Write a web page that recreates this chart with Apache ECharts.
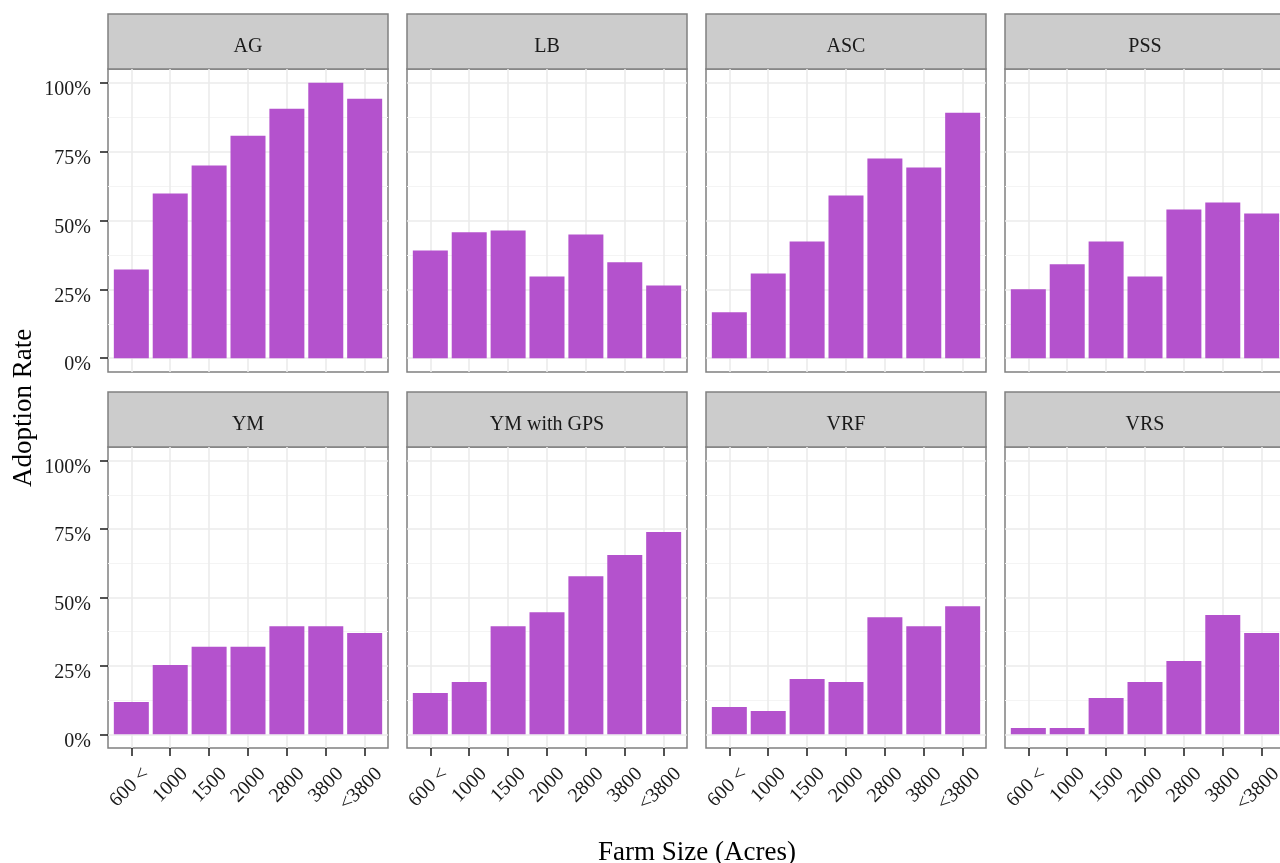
<!DOCTYPE html>
<html>
<head>
<meta charset="utf-8">
<script src="https://cdn.jsdelivr.net/npm/echarts@6/dist/echarts.min.js"></script>
<style>
  html, body { margin: 0; padding: 0; background: #fff; }
  #chart { width: 1280px; height: 863px; }
</style>
</head>
<body>
<div id="chart"></div>
<script>
// farm size classes (x axis)
const categories = ['600 <', '1000', '1500', '2000', '2800', '3800', '<3800'];
const panelNames = ['AG', 'LB', 'ASC', 'PSS', 'YM', 'YM with GPS', 'VRF', 'VRS'];

// adoption rate in %, one array per technology
const agRate    = [32.2, 59.8, 70.0, 80.8, 90.6, 100, 94.2];
const lbRate    = [39.1, 45.7, 46.4, 29.7, 44.9, 34.8, 26.4];
const ascRate   = [16.7, 30.8, 42.4, 59.1, 72.5, 69.2, 89.1];
const pssRate   = [25.0, 34.1, 42.4, 29.7, 54.0, 56.5, 52.5];
const ymRate    = [11.8, 25.3, 32.0, 32.0, 39.5, 39.5, 37.0];
const ymGpsRate = [15.1, 19.1, 39.5, 44.6, 57.8, 65.5, 73.9];
const vrfRate   = [10.0, 8.5, 20.2, 19.1, 42.8, 39.5, 46.8];
const vrsRate   = [2.3, 2.3, 13.3, 19.1, 26.8, 43.6, 37.0];

const yTicks = [0, 25, 50, 75, 100];
const yMinorTicks = [12.5, 37.5, 62.5, 87.5];

const panelData = [agRate, lbRate, ascRate, pssRate, ymRate, ymGpsRate, vrfRate, vrsRate];

// layout (ggplot-like facets, 2 rows x 4 cols)
const FONT = '"Liberation Serif", "DejaVu Serif", serif';
const colLeft = [108, 407, 706, 1005];
const panelW = 280;
const rows = [
    { stripTop: 14, plotTop: 69, plotH: 303 },
    { stripTop: 392, plotTop: 447, plotH: 301 }
];
const stripH = 55;
const labelShift = 0.19;   // rotated x labels sit a little right of their tick (hjust = 1)
const barColor = '#b452cd';
const borderColor = '#808080';

const chart = echarts.init(document.getElementById('chart'));

const grid = [], xAxis = [], yAxis = [], series = [], graphic = [];

panelData.forEach((vals, p) => {
    const r = Math.floor(p / 4), c = p % 4;
    const row = rows[r];
    const isBottom = r === 1, isLeft = c === 0;

    grid.push({
        left: colLeft[c], top: row.plotTop, width: panelW, height: row.plotH,
        outerBoundsMode: 'none', containLabel: false,
        show: true, borderColor, borderWidth: 1.5, backgroundColor: 'transparent'
    });

    const catPos = categories.map((_, i) => i + 1);
    // ticks + vertical grid
    xAxis.push({
        gridIndex: p,
        type: 'value',
        min: 0.4, max: 7.6,
        axisLine: { show: false, onZero: false },
        axisTick: {
            show: isBottom, customValues: catPos, length: 8,
            lineStyle: { color: '#1a1a1a', width: 1.5 }
        },
        axisLabel: { show: false, customValues: catPos },
        splitLine: { show: true, lineStyle: { color: '#ebebeb', width: 1.6 } }
    });
    // labels only
    xAxis.push({
        gridIndex: p,
        type: 'value',
        position: 'bottom',
        min: 0.4, max: 7.6,
        axisLine: { show: false, onZero: false },
        axisTick: { show: false, customValues: catPos.map(v => v + labelShift) },
        axisLabel: {
            show: isBottom, customValues: catPos.map(v => v + labelShift),
            rotate: 45, margin: 16,
            showMinLabel: true, showMaxLabel: true, hideOverlap: false,
            align: 'right', verticalAlign: 'top',
            color: '#1a1a1a', fontFamily: FONT, fontSize: 20,
            formatter: v => categories[Math.round(v - labelShift) - 1]
        },
        splitLine: { show: false }
    });

    // main y axis (ticks, labels, major grid)
    yAxis.push({
        gridIndex: p,
        type: 'value',
        min: -5, max: 105,
        axisLine: { show: false, onZero: false },
        axisTick: {
            show: isLeft, customValues: yTicks, length: 8,
            lineStyle: { color: '#1a1a1a', width: 1.5 }
        },
        axisLabel: {
            show: isLeft, customValues: yTicks, margin: 17,
            showMinLabel: true, showMaxLabel: true, hideOverlap: false,
            verticalAlign: 'top', lineHeight: 14,
            color: '#1a1a1a', fontFamily: FONT, fontSize: 20,
            formatter: v => v + '%'
        },
        splitLine: { show: true, lineStyle: { color: '#ebebeb', width: 1.6 } }
    });
    // helper y axis just for the minor grid lines
    yAxis.push({
        gridIndex: p,
        type: 'value',
        position: 'left',
        min: -5, max: 105,
        axisLine: { show: false, onZero: false },
        axisTick: { show: false, customValues: yMinorTicks },
        axisLabel: { show: false, customValues: yMinorTicks },
        splitLine: { show: true, lineStyle: { color: '#f4f4f4', width: 1 } }
    });

    series.push({
        type: 'bar',
        xAxisIndex: p * 2,
        yAxisIndex: p * 2,
        barWidth: 0.9 * panelW / 7.2,
        z: 3,
        itemStyle: { color: barColor },
        data: vals.map((v, i) => [i + 1, v])
    });

    // facet strip
    graphic.push({
        type: 'rect',
        shape: { x: colLeft[c], y: row.stripTop, width: panelW, height: stripH },
        style: { fill: '#cccccc', stroke: borderColor, lineWidth: 1.5 }
    });
    graphic.push({
        type: 'text',
        x: colLeft[c] + panelW / 2, y: row.stripTop + stripH / 2 + 5,
        style: {
            text: panelNames[p], fill: '#1a1a1a', font: '20px ' + FONT,
            align: 'center', verticalAlign: 'middle'
        }
    });
});

// axis titles
graphic.push({
    type: 'text', x: 697, y: 853,
    style: { text: 'Farm Size (Acres)', fill: '#000', font: '27px ' + FONT, align: 'center', verticalAlign: 'middle' }
});
graphic.push({
    type: 'text', x: 24, y: 408, rotation: Math.PI / 2,
    style: { text: 'Adoption Rate', fill: '#000', font: '27px ' + FONT, align: 'center', verticalAlign: 'middle' }
});

chart.setOption({
    animation: false,
    grid, xAxis, yAxis, series, graphic
});
</script>
</body>
</html>
